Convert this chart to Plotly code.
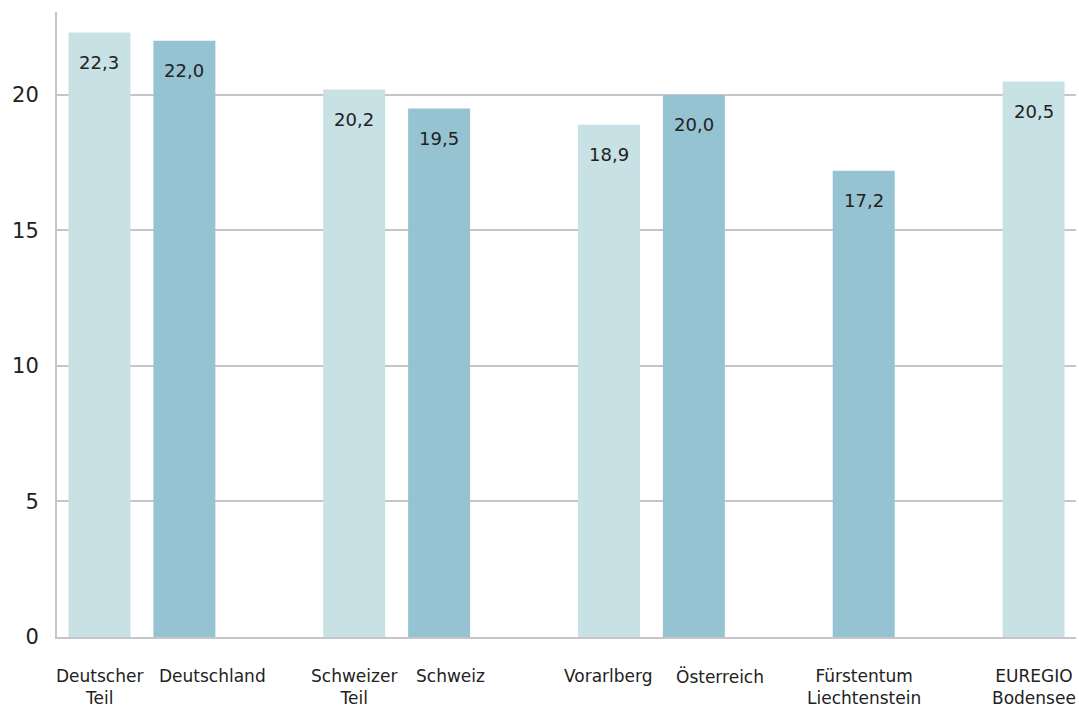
import plotly.graph_objects as go

# Data
groups = [
    ["Deutscher<br>Teil", "Deutschland"],
    ["Schweizer<br>Teil", "Schweiz"],
    ["Vorarlberg", "Österreich"],
    ["Fürstentum<br>Liechtenstein"],
    ["EUREGIO<br>Bodensee"],
]
values = [22.3, 22.0, 20.2, 19.5, 18.9, 20.0, 17.2, 20.5]
kinds = ["teil", "land", "teil", "land", "teil", "land", "land", "teil"]

# Styling
LIGHT = "#c8e1e5"
DARK = "#96c3d1"
TEXT = "#222222"
GRID = "#c6c6ca"
FONT = "DejaVu Sans"
label_nudge_px = [0, 28, 0, 11, 0, 26, 0, 0]  # horizontal label offsets as in reference

# slot positions: groups separated by one empty slot
labels, xs = [], []
slot = 0
for g in groups:
    for name in g:
        labels.append(name)
        xs.append(slot)
        slot += 1
    slot += 1
nslots = slot - 1

colors = [LIGHT if k == "teil" else DARK for k in kinds]
texts = [f"{v:.1f}".replace(".", ",") for v in values]

fig = go.Figure()
fig.add_trace(go.Bar(
    x=xs, y=values, marker=dict(color=colors, line=dict(width=0)),
    width=0.73, hoverinfo="skip", showlegend=False,
))
for x, v, t in zip(xs, values, texts):
    fig.add_annotation(x=x, y=v, text=t, showarrow=False, yshift=-30,
                       font=dict(family=FONT, size=18, color=TEXT))
for x, lab, dx in zip(xs, labels, label_nudge_px):
    fig.add_annotation(x=x, xref="x", y=0, yref="paper", yanchor="top",
                       text=lab, showarrow=False, xshift=dx, yshift=-27,
                       align="center",
                       font=dict(family=FONT, size=17, color=TEXT))

fig.update_layout(
    width=1079, height=708,
    margin=dict(l=57, r=3, t=12, b=71),
    paper_bgcolor="white", plot_bgcolor="white",
    font=dict(family=FONT, color=TEXT),
    xaxis=dict(
        range=[-0.5, nslots - 0.5], tickmode="array", tickvals=xs,
        showticklabels=False,
        showgrid=False, zeroline=False, showline=True, linecolor=GRID, linewidth=2,
        ticks="", automargin=False,
    ),
    yaxis=dict(
        range=[0, 23.06], tickvals=[0, 5, 10, 15, 20],
        showgrid=True, gridcolor=GRID, gridwidth=2, zeroline=False,
        showline=True, linecolor=GRID, linewidth=2, ticks="", automargin=False,
        tickfont=dict(family=FONT, size=21, color=TEXT), ticklabelstandoff=12,
    ),
)

fig.write_html("out.html")
